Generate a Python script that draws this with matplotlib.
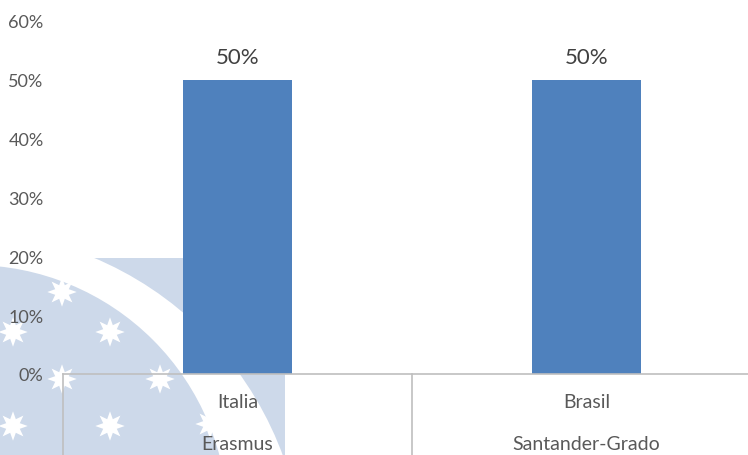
import matplotlib
matplotlib.use('Agg')
import matplotlib.pyplot as plt
import matplotlib.transforms as mtransforms
from matplotlib.patches import Rectangle, Circle

# ====================== data ======================
countries = ['Italia', 'Brasil']
programs = ['Erasmus', 'Santander-Grado']
shares = [0.50, 0.50]
y_ticks = [0.0, 0.1, 0.2, 0.3, 0.4, 0.5, 0.6]

bar_color = '#4f81bd'
text_gray = '#595959'
line_gray = '#bfbfbf'
mark_blue = '#cdd9ea'

W, H = 748, 456
fig = plt.figure(figsize=(W / 100, H / 100), dpi=100)
plt.rcParams['font.family'] = ['Lato', 'DejaVu Sans']

# ====================== watermark (background logo) ======================
bg = fig.add_axes([0, 0, 1, 1], zorder=0)
bg.set_xlim(0, W)
bg.set_ylim(H, 0)
bg.axis('off')
box = Rectangle((0, 259), 285, H - 259, facecolor=mark_blue, edgecolor='none')
bg.add_patch(box)
outer = Circle((-39, 575), 343, facecolor='white', edgecolor='none')
inner = Circle((-28, 522), 256, facecolor=mark_blue, edgecolor='none')
for c in (outer, inner):
    bg.add_patch(c)
    c.set_clip_path(box)
star_x = [62, 13, 110, 62, 160, 13, 110, 210]
star_y = [293, 333, 333, 380, 380, 427, 427, 425]
bg.scatter(star_x, star_y, s=450, marker=(8, 1, 0), color='white', edgecolors='none')

# ====================== chart ======================
left_px, right_px = 63, 761
bottom_px, top_px = 375, 22
ax = fig.add_axes([left_px / W, (H - bottom_px) / H,
                   (right_px - left_px) / W, (bottom_px - top_px) / H], zorder=1)
ax.patch.set_alpha(0)

x = list(range(len(countries)))
ax.bar(x, shares, width=0.31, color=bar_color, zorder=2)
for xi, v in zip(x, shares):
    ax.text(xi, v + 0.039, f'{v:.0%}', ha='center', va='center',
            fontsize=16, color='#404040')

ax.set_xlim(-0.5, len(countries) - 0.5)
ax.set_ylim(0, 0.6)
ax.set_yticks(y_ticks)
ax.set_yticklabels([f'{t:.0%}' for t in y_ticks])
ax.tick_params(axis='y', length=0, pad=14, labelsize=13, labelcolor=text_gray)
ax.set_xticks([])
for s in ['top', 'right', 'left']:
    ax.spines[s].set_visible(False)
ax.spines['bottom'].set_color(line_gray)
ax.spines['bottom'].set_linewidth(1.2)

# multi-level category axis
trans = mtransforms.blended_transform_factory(ax.transData, ax.transAxes)
for b in [xi - 0.5 for xi in x]:
    ax.plot([b, b], [0, -0.3], color=line_gray, lw=1.2, transform=trans, clip_on=False)
for xi, c, p in zip(x, countries, programs):
    ax.text(xi, -28 / 353, c, ha='center', va='center', fontsize=14,
            color=text_gray, transform=trans)
    ax.text(xi, -70 / 353, p, ha='center', va='center', fontsize=14,
            color=text_gray, transform=trans)

fig.savefig('out.png', dpi=100)
